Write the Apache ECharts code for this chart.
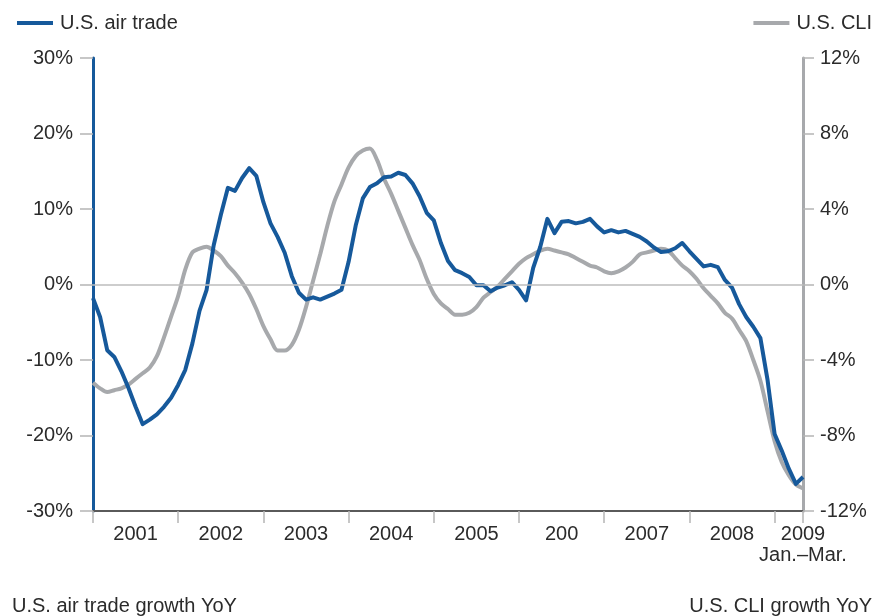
<!DOCTYPE html>
<html>
<head>
<meta charset="utf-8">
<script src="https://cdn.jsdelivr.net/npm/echarts@6/dist/echarts.min.js"></script>
<style>
  html, body { margin: 0; padding: 0; background: #fff; }
  #main { width: 880px; height: 616px; }
</style>
</head>
<body>
<div id="main"></div>
<script>
// monthly YoY growth, Jan 2001 onwards (index = month number)
var airTrade = [
    -1.8, -4.3, -8.7, -9.6, -11.5, -13.7, -16.2, -18.5, -17.9, -17.2,
    -16.2, -15.0, -13.3, -11.3, -7.8, -3.5, -0.7, 5.2, 9.2, 12.8,
    12.4, 14.1, 15.4, 14.4, 10.9, 8.1, 6.3, 4.2, 1.1, -1.1,
    -2.0, -1.7, -2.0, -1.6, -1.2, -0.7, 3.0, 7.8, 11.4, 12.9,
    13.4, 14.2, 14.3, 14.8, 14.5, 13.4, 11.7, 9.5, 8.5, 5.5,
    3.1, 1.9, 1.5, 1.0, -0.1, -0.1, -0.9, -0.4, -0.1, 0.3,
    -0.7, -2.1, 2.2, 5.0, 8.7, 6.8, 8.3, 8.4, 8.1, 8.3,
    8.7, 7.7, 6.9, 7.2, 6.9, 7.1, 6.7, 6.3, 5.7, 4.9,
    4.3, 4.4, 4.8, 5.5, 4.4, 3.4, 2.4, 2.6, 2.3, 0.6,
    -0.4, -2.6, -4.3, -5.6, -7.1, -12.6, -19.8, -22.0, -24.4, -26.4,
    -25.5
];
var cli = [
    -5.2, -5.5, -5.7, -5.6, -5.5, -5.3, -5.0, -4.7, -4.4, -3.8,
    -2.8, -1.7, -0.6, 0.8, 1.7, 1.9, 2.0, 1.8, 1.5, 1.0,
    0.6, 0.1, -0.5, -1.3, -2.2, -2.9, -3.5, -3.5, -3.2, -2.4,
    -1.2, 0.2, 1.6, 3.1, 4.4, 5.3, 6.2, 6.8, 7.1, 7.2,
    6.6, 5.6, 4.8, 3.9, 3.0, 2.1, 1.3, 0.3, -0.5, -1.0,
    -1.3, -1.6, -1.6, -1.5, -1.2, -0.7, -0.4, -0.1, 0.3, 0.7,
    1.1, 1.4, 1.6, 1.8, 1.9, 1.8, 1.7, 1.6, 1.4, 1.2,
    1.0, 0.9, 0.7, 0.6, 0.7, 0.9, 1.2, 1.6, 1.7, 1.8,
    1.9, 1.8, 1.4, 1.0, 0.7, 0.3, -0.2, -0.6, -1.0, -1.5,
    -1.8, -2.4, -3.0, -4.0, -5.1, -6.7, -8.3, -9.4, -10.1, -10.6,
    -10.8
];
var yearLabels = ['2001', '2002', '2003', '2004', '2005', '200', '2007', '2008', '2009\nJan.\u2013Mar.'];
var seriesNames = ['U.S. air trade', 'U.S. CLI'];
var axisTitles = ['U.S. air trade growth YoY', 'U.S. CLI growth YoY'];

var blue = '#16599b';
var grey = '#a7a9ac';
var textColor = '#2b2b2b';
var font = 'Liberation Sans';
var fs = 20;

var lastMonth = airTrade.length - 1;
// ticks at each January plus the end of the axis, labels in the middle of each year
var tickValues = [];
var labelValues = [];
for (var y = 0; y < yearLabels.length; y++) {
    tickValues.push(Math.min(y * 12, lastMonth));
    labelValues.push(y < yearLabels.length - 1 ? y * 12 + 6 : lastMonth);
}
tickValues.push(lastMonth);

function pairs(arr) {
    return arr.map(function (v, i) { return [i, v]; });
}

var myChart = echarts.init(document.getElementById('main'));
var option = {
    backgroundColor: '#fff',
    animation: false,
    textStyle: { fontFamily: font },
    title: [{
        text: axisTitles[0], left: 7, top: 591,
        textStyle: { fontFamily: font, fontSize: fs, fontWeight: 'normal', color: textColor }
    }, {
        text: axisTitles[1], right: 3, top: 591,
        textStyle: { fontFamily: font, fontSize: fs, fontWeight: 'normal', color: textColor }
    }],
    legend: [{
        data: [seriesNames[0]], left: 12, top: 8,
        icon: 'rect', itemWidth: 36, itemHeight: 4,
        textStyle: { fontFamily: font, fontSize: fs, color: textColor, padding: [0, 0, 0, 2] }
    }, {
        data: [seriesNames[1]], right: 3, top: 8,
        icon: 'rect', itemWidth: 36, itemHeight: 4,
        textStyle: { fontFamily: font, fontSize: fs, color: textColor, padding: [0, 0, 0, 2] }
    }],
    grid: { left: 93, right: 77, top: 58, bottom: 105 },
    xAxis: {
        type: 'value', min: 0, max: lastMonth,
        splitLine: { show: false },
        axisLine: { show: true, onZero: false, lineStyle: { color: '#5a5a5a', width: 2 } },
        axisTick: { show: true, customValues: tickValues, length: 12, lineStyle: { color: '#b5b5b5', width: 1.5 } },
        axisLabel: {
            customValues: labelValues, margin: 13,
            fontFamily: font, fontSize: fs, color: textColor, lineHeight: 21,
            formatter: function (v) {
                var idx = labelValues.indexOf(v);
                return idx >= 0 ? yearLabels[idx] : '';
            }
        }
    },
    yAxis: [{
        type: 'value', min: -30, max: 30, interval: 10, position: 'left',
        splitLine: { show: false },
        axisLine: { show: true, onZero: false, lineStyle: { color: blue, width: 3 } },
        axisTick: { show: true, length: 13, lineStyle: { color: '#b5b5b5', width: 1.5 } },
        axisLabel: { formatter: '{value}%', margin: 20, fontFamily: font, fontSize: fs, color: textColor }
    }, {
        type: 'value', min: -12, max: 12, interval: 4, position: 'right',
        splitLine: { show: false },
        axisLine: { show: true, onZero: false, lineStyle: { color: grey, width: 3 } },
        axisTick: { show: true, length: 11, lineStyle: { color: '#b5b5b5', width: 1.5 } },
        axisLabel: { formatter: '{value}%', margin: 17, fontFamily: font, fontSize: fs, color: textColor }
    }],
    series: [{
        name: seriesNames[1],
        type: 'line',
        yAxisIndex: 1,
        data: pairs(cli),
        smooth: 0.3,
        showSymbol: false,
        lineStyle: { color: grey, width: 4 },
        itemStyle: { color: grey },
        z: 2
    }, {
        name: seriesNames[0],
        type: 'line',
        yAxisIndex: 0,
        data: pairs(airTrade),
        showSymbol: false,
        lineStyle: { color: blue, width: 4, join: 'round' },
        itemStyle: { color: blue },
        markLine: {
            silent: true, symbol: 'none', label: { show: false },
            lineStyle: { color: '#bdbdbd', width: 1.5, type: 'solid' },
            data: [{ yAxis: 0 }]
        },
        z: 3
    }]
};
myChart.setOption(option);
</script>
</body>
</html>
